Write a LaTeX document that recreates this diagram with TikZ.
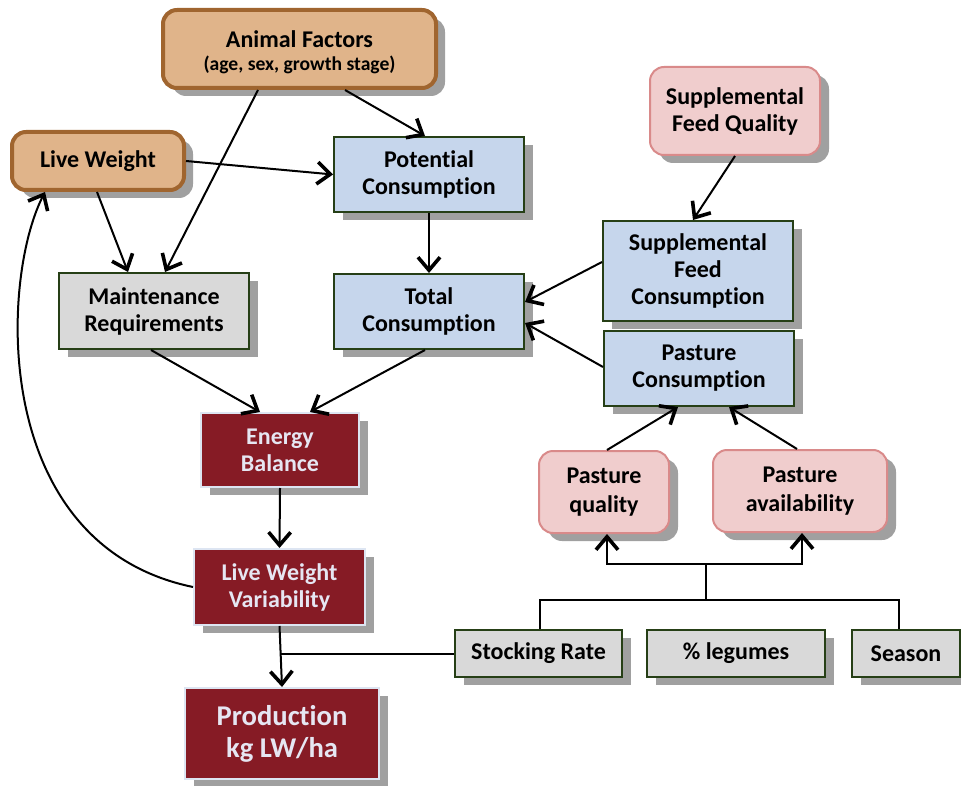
\documentclass[tikz,border=0pt]{standalone}
\usepackage{fontspec}
\setmainfont{Carlito}[Ligatures={NoCommon,NoDiscretionary}]
\usetikzlibrary{arrows.meta,shadows,calc}
\definecolor{tanF}{HTML}{E0B48A}
\definecolor{tanD}{HTML}{A0652F}
\definecolor{blueF}{HTML}{C6D6EC}
\definecolor{greenD}{HTML}{263F16}
\definecolor{grayF}{HTML}{D9D9D9}
\definecolor{pinkF}{HTML}{F0CDCD}
\definecolor{pinkD}{HTML}{D98A8A}
\definecolor{redF}{HTML}{861B25}
\definecolor{redD}{HTML}{DDE5F2}
\definecolor{redT}{HTML}{E6E6F2}
\definecolor{shadowC}{HTML}{A0A0A0}
\begin{document}
\begin{tikzpicture}[x=0.5pt,y=-0.5pt,
 base/.style={align=center, inner sep=0pt, font=\bfseries\fontsize{12}{13.5}\selectfont,
   drop shadow={shadow xshift=4.5pt,shadow yshift=-4pt,fill=shadowC,opacity=1}},
 tanbox/.style={base, rounded corners=7pt, fill=tanF, draw=tanD, line width=2pt},
 bluebox/.style={base, fill=blueF, draw=greenD, line width=1pt},
 graybox/.style={base, fill=grayF, draw=greenD, line width=1pt},
 pinkbox/.style={base, rounded corners=7pt, fill=pinkF, draw=pinkD, line width=1pt},
 redbox/.style={base, fill=redF, draw=redD, line width=1pt, text=redT},
 arr/.style={line width=1pt, -{Straight Barb[length=6.5pt,width=11pt,line width=1.8pt]}},
 ln/.style={line width=1pt}]
\useasboundingbox (0,0) rectangle (961,785);

\node[tanbox, minimum width=136.5pt, minimum height=39pt] (af) at (299.5,49)
  {\rule{0pt}{12pt}Animal Factors\\[-2pt]{\fontsize{9.8}{11}\selectfont (age, sex, growth stage)}};
\node[tanbox, minimum width=86pt, minimum height=29pt] (lw) at (98,161) {Live Weight};
\node[bluebox, minimum width=95pt, minimum height=37.5pt] (pc) at (429,174.5) {Potential\\Consumption};
\node[pinkbox, minimum width=85pt, minimum height=44pt] (sfq) at (735,111) {Supplemental\\Feed Quality};
\node[bluebox, minimum width=95pt, minimum height=50pt] (sfc) at (698,271) {Supplemental\\Feed\\Consumption};
\node[graybox, minimum width=95pt, minimum height=38pt] (mr) at (154,311) {Maintenance\\Requirements};
\node[bluebox, minimum width=95pt, minimum height=37.5pt] (tc) at (429,311.5) {Total\\Consumption};
\node[bluebox, minimum width=95pt, minimum height=37.5pt] (pcons) at (699,368.5) {Pasture\\Consumption};
\node[redbox, minimum width=79pt, minimum height=37pt] (eb) at (280,450) {Energy\\Balance};
\node[pinkbox, minimum width=65pt, minimum height=41pt] (pq) at (604,492) {Pasture\\[1pt]quality};
\node[pinkbox, minimum width=87pt, minimum height=41pt] (pa) at (800,491) {Pasture\\[1pt]availability};
\node[redbox, minimum width=85.5pt, minimum height=38pt] (lwv) at (279.5,587) {Live Weight\\Variability};
\node[redbox, minimum width=97pt, minimum height=45.5pt, font=\bfseries\fontsize{14.3}{16}\selectfont] (prod) at (282,733.5) {Production\\kg LW/ha};
\node[graybox, minimum width=83.5pt, minimum height=23.5pt] (sr) at (538.5,653.5) {Stocking Rate};
\node[graybox, minimum width=89pt, minimum height=23.5pt] (leg) at (736,653.5) {\% legumes};
\node[graybox, minimum width=54pt, minimum height=23.5pt] (sea) at (906,653.5) {Season};

% connectors
\draw[arr] ([xshift=22.75pt]af.south) -- ([xshift=-2pt]pc.north);
\draw[arr] ([xshift=-20.75pt]af.south) -- ([xshift=5.5pt]mr.north);
\draw[arr] ([xshift=-0.5pt]lw.south) -- ([xshift=-13pt]mr.north);
\draw[arr] (lw.east) -- (pc.west);
\draw[arr] (pc.south) -- (tc.north);
\draw[arr] (sfq.south) -- ([xshift=-2.5pt]sfc.north);
\draw[arr] ([yshift=4.5pt]sfc.west) -- ([yshift=4.75pt]tc.east);
\draw[arr] ([yshift=0.75pt]pcons.west) -- ([yshift=-5.75pt]tc.east);
\draw[arr] ([xshift=-1.5pt]mr.south) -- ([xshift=-10pt]eb.north);
\draw[arr] ([xshift=-2pt]tc.south) -- ([xshift=15pt]eb.north);
\draw[arr] (eb.south) -- (lwv.north);
\draw[arr] (lwv.south) -- (prod.north);
\draw[ln] (sr.west) -- (sr.west -| lwv.south);
\draw[arr] ([xshift=1.5pt]pq.north) -- ([xshift=-10.5pt]pcons.south);
\draw[arr] ([xshift=-1.5pt]pa.north) -- ([xshift=15pt]pcons.south);
\draw[arr] (lwv.west) .. controls (-10,545) and (0,280) .. ([xshift=-26.5pt]lw.south);

\coordinate (j1) at (706,600);
\coordinate (j2) at (706,564);
\draw[ln] ([xshift=0.5pt]sr.north) |- (j1) -| ([xshift=-3.5pt]sea.north);
\draw[ln] (j1) -- (j2);
\draw[arr] (j2) -| ([xshift=1.5pt]pq.south);
\draw[arr] (j2) -| ([xshift=1pt]pa.south);
\end{tikzpicture}
\end{document}
